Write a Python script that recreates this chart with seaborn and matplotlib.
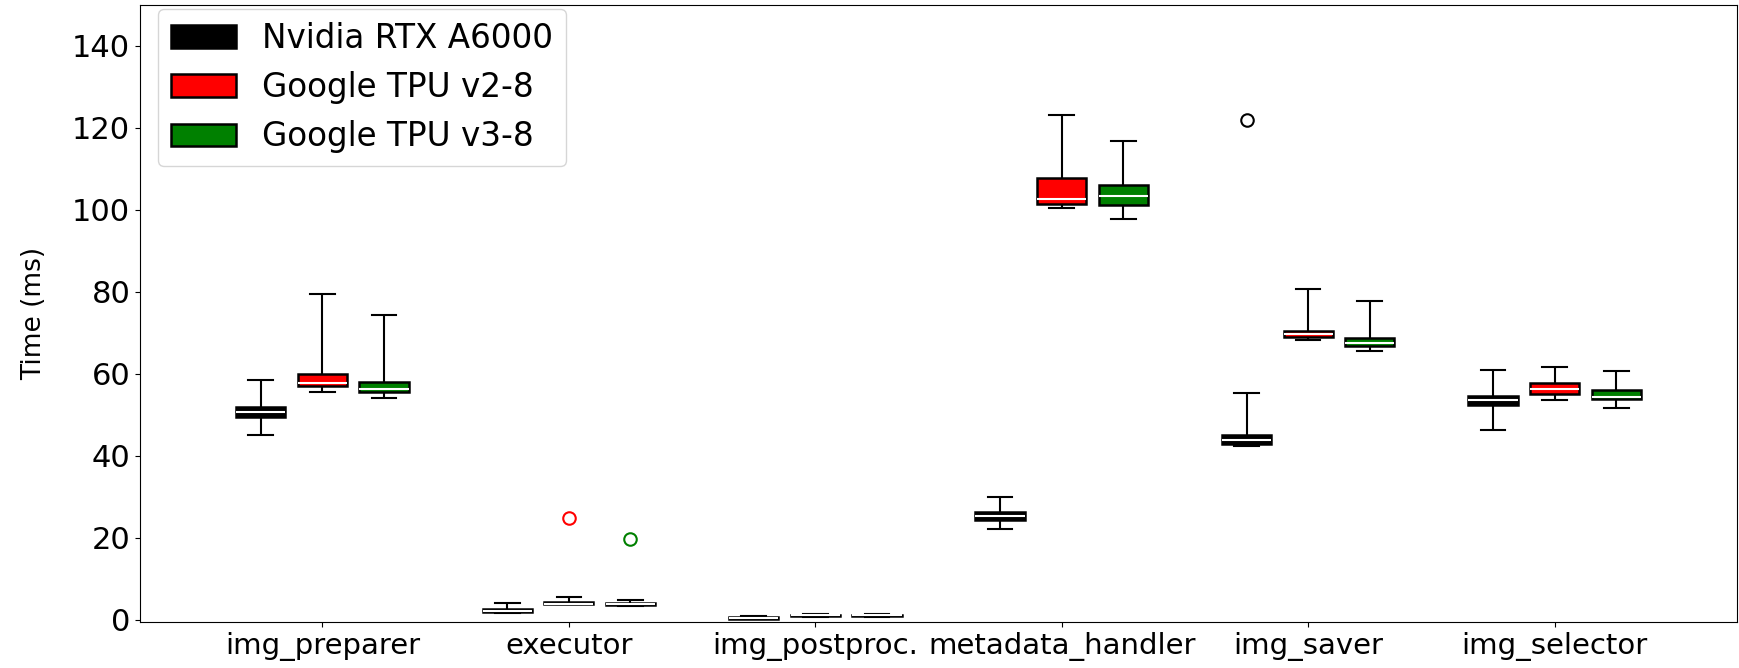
import pandas as pd
import seaborn as sns
import matplotlib.pyplot as plt

# Pipeline stages and hardware
stages = ["img_preparer", "executor", "img_postproc.", "metadata_handler", "img_saver", "img_selector"]
hardware = ["Nvidia RTX A6000", "Google TPU v2-8", "Google TPU v3-8"]
colors = ["black", "red", "green"]

# Five-number summaries: [min, q1, median, q3, max] (ms)
a6000 = [
    [45.0, 49.5, 50.7, 52.0, 58.5],
    [1.7, 1.9, 2.3, 2.7, 4.1],
    [0.2, 0.3, 0.5, 0.8, 1.0],
    [22.3, 24.4, 25.4, 26.4, 30.0],
    [42.5, 43.0, 44.0, 45.1, 55.3],
    [46.4, 52.5, 53.6, 54.7, 61.0],
]
tpu_v2 = [
    [55.6, 57.0, 57.8, 59.9, 79.4],
    [3.8, 3.9, 4.0, 4.3, 5.7],
    [0.8, 0.9, 1.1, 1.3, 1.4],
    [100.5, 101.5, 102.7, 107.7, 123.1],
    [68.3, 69.0, 69.7, 70.5, 80.7],
    [53.7, 55.2, 56.3, 57.7, 61.8],
]
tpu_v3 = [
    [54.1, 55.6, 56.3, 58.1, 74.5],
    [3.5, 3.7, 3.9, 4.2, 4.9],
    [0.8, 0.9, 1.1, 1.3, 1.4],
    [97.9, 101.1, 103.4, 106.1, 116.9],
    [65.7, 66.8, 67.6, 68.7, 77.9],
    [51.8, 53.8, 54.3, 56.2, 60.7],
]

# Outliers
outlier_stage = ["img_saver", "executor", "executor"]
outlier_hw = ["Nvidia RTX A6000", "Google TPU v2-8", "Google TPU v3-8"]
outlier_time = [122.0, 24.8, 19.7]

# Long-form table
rows = []
for hw, summary in zip(hardware, [a6000, tpu_v2, tpu_v3]):
    for stage, vals in zip(stages, summary):
        for v in vals:
            rows.append({"stage": stage, "hardware": hw, "time": v})
df = pd.DataFrame(rows)
df_out = pd.DataFrame({"stage": outlier_stage, "hardware": outlier_hw, "time": outlier_time})

palette = dict(zip(hardware, colors))

fig, ax = plt.subplots(figsize=(17.4, 6.68), dpi=100)
fig.subplots_adjust(left=140 / 1740, right=1737 / 1740, top=1 - 5 / 668, bottom=1 - 622 / 668)

sns.boxplot(
    data=df, x="stage", y="time", hue="hardware",
    order=stages, hue_order=hardware, palette=palette, saturation=1,
    whis=(0, 100), width=0.75, gap=0.2,
    linecolor="black", linewidth=1.5,
    boxprops={"linewidth": 1.8},
    medianprops={"color": "white", "linewidth": 1.5},
    ax=ax,
)

# outliers as hollow circles, dodged like the boxes
sns.pointplot(
    data=df_out, x="stage", y="time", hue="hardware",
    order=stages, hue_order=hardware, palette=palette,
    dodge=0.5, linestyle="none", marker="o", markersize=9,
    errorbar=None, legend=False, ax=ax,
)
for line in ax.lines:
    if line.get_marker() == "o":
        line.set_markeredgecolor(line.get_color())
        line.set_markerfacecolor("none")
        line.set_markeredgewidth(1.5)

ax.set_xlim(-0.74, 5.74)
ax.set_ylim(-0.5, 150)
ax.set_xlabel("")
ax.set_ylabel("Time (ms)", fontsize=19, labelpad=18)
ax.tick_params(axis="y", labelsize=22)
ax.tick_params(axis="x", labelsize=21)

sns.move_legend(ax, "upper left", bbox_to_anchor=(0.011, 0.994), borderaxespad=0,
                title=None, fontsize=23.5, handlelength=2.0)

plt.savefig("out.png", dpi=100)
